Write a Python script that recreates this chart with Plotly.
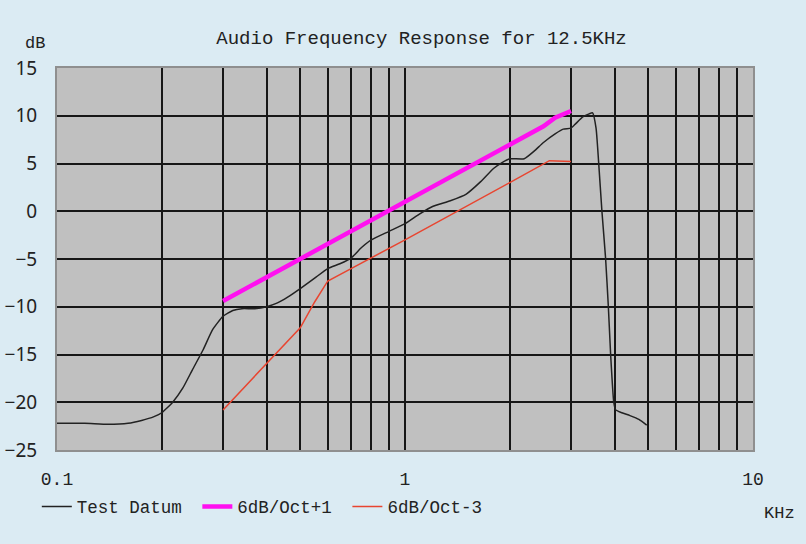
import plotly.graph_objects as go

# ---------------- data ----------------
test_freq = [0.1, 0.12, 0.14, 0.16, 0.175, 0.19, 0.2, 0.215, 0.23, 0.245, 0.263, 0.28,
             0.3, 0.32, 0.34, 0.37, 0.4, 0.43, 0.46, 0.5, 0.55, 0.6, 0.65, 0.7, 0.75,
             0.8, 0.9, 1.0, 1.1, 1.2, 1.35, 1.5, 1.65, 1.8, 1.9, 2.0, 2.2, 2.35, 2.5,
             2.7, 2.85, 3.0, 3.1, 3.25, 3.38, 3.46, 3.54, 3.6, 3.68, 3.77, 3.84, 3.9,
             3.98, 4.03, 4.2, 4.43, 4.7, 4.95]
test_db = [-22.2, -22.2, -22.3, -22.2, -21.9, -21.5, -21.1, -20.0, -18.5, -16.6, -14.5, -12.4,
           -11.0, -10.4, -10.2, -10.2, -10.0, -9.6, -9.0, -8.1, -7.0, -6.0, -5.5, -4.9, -3.8,
           -3.0, -2.1, -1.3, -0.3, 0.5, 1.1, 1.8, 3.1, 4.5, 5.1, 5.5, 5.5, 6.3, 7.2,
           8.1, 8.6, 8.7, 9.2, 9.9, 10.2, 10.3, 8.7, 5.2, 0.0, -4.9, -10.0, -15.1,
           -20.0, -20.8, -21.1, -21.4, -21.8, -22.4]

plus1_freq = [0.3, 0.5, 1.0, 2.0, 2.5, 2.7, 3.0]
plus1_db = [-9.4, -5.0, 1.0, 7.0, 8.9, 9.8, 10.5]

minus3_freq = [0.3, 0.4, 0.5, 0.55, 0.6, 0.7, 0.8, 1.0, 2.0, 2.6, 3.0]
minus3_db = [-20.8, -16.0, -12.2, -9.5, -7.3, -6.0, -4.9, -3.0, 3.0, 5.3, 5.2]

series_names = ["Test Datum\u00a0", "6dB/Oct+1\u00a0", "6dB/Oct-3"]

x_tickvals = [0.1, 0.2, 0.3, 0.4, 0.5, 0.6, 0.7, 0.8, 0.9,
              1, 2, 3, 4, 5, 6, 7, 8, 9, 10]
x_ticktext = ["0.1", "", "", "", "", "", "", "", "",
              "1", "", "", "", "", "", "", "", "", "10"]
y_tickvals = [-25, -20, -15, -10, -5, 0, 5, 10, 15]

# ---------------- figure ----------------
MONO = "Liberation Mono"
BG = "#dbebf3"
fig = go.Figure()
fig.add_trace(go.Scatter(x=test_freq, y=test_db, mode="lines", name=series_names[0],
                         line=dict(color="#222222", width=1.5, shape="spline", smoothing=0.5)))
fig.add_trace(go.Scatter(x=plus1_freq, y=plus1_db, mode="lines", name=series_names[1],
                         line=dict(color="#ff10f0", width=4.5)))
fig.add_trace(go.Scatter(x=minus3_freq, y=minus3_db, mode="lines", name=series_names[2],
                         line=dict(color="#e84530", width=1.5)))

fig.update_layout(
    width=806, height=544,
    margin=dict(l=57, r=53, t=68, b=94),
    paper_bgcolor=BG,
    plot_bgcolor="#c0c0c0",
    title=dict(text="Audio Frequency Response for 12.5KHz", x=0.523, xanchor="center",
               y=1 - 37 / 544, yanchor="middle",
               font=dict(family=MONO, size=19, color="#222222")),
    showlegend=True,
    legend=dict(orientation="h", x=-0.029, xanchor="left", y=-0.148, yanchor="middle",
                font=dict(family=MONO, size=17.5, color="#222222"),
                bgcolor="rgba(0,0,0,0)", itemwidth=30),
    annotations=[
        dict(text="dB", xref="paper", yref="paper", x=-22 / 696, y=1 + 25 / 382,
             xanchor="center", yanchor="middle", showarrow=False,
             font=dict(family=MONO, size=17, color="#222222")),
        dict(text="KHz", xref="paper", yref="paper", x=1 + 26 / 696, y=-63 / 382,
             xanchor="center", yanchor="middle", showarrow=False,
             font=dict(family=MONO, size=17, color="#222222")),
    ],
)
fig.update_xaxes(type="log", range=[-1, 1], tickvals=x_tickvals, ticktext=x_ticktext,
                 showgrid=True, gridcolor="#161616", gridwidth=1.5,
                 showline=True, mirror=True, linecolor="#8f8f8f", linewidth=2,
                 zeroline=False, ticks="", ticklabelstandoff=11, automargin=False,
                 tickfont=dict(family=MONO, size=18, color="#222222"))
fig.update_yaxes(range=[-25, 15], tickvals=y_tickvals,
                 showgrid=True, gridcolor="#161616", gridwidth=1.5,
                 showline=True, mirror=True, linecolor="#8f8f8f", linewidth=2,
                 zeroline=False, ticks="", ticklabelstandoff=14, automargin=False,
                 tickfont=dict(family="Noto Sans", size=19, color="#222222"))

fig.write_html(
    "out.html",
    config={"displayModeBar": False},
    post_script="document.body.style.margin='0';document.body.style.overflow='hidden';"
                "document.body.style.backgroundColor='" + BG + "';",
)
